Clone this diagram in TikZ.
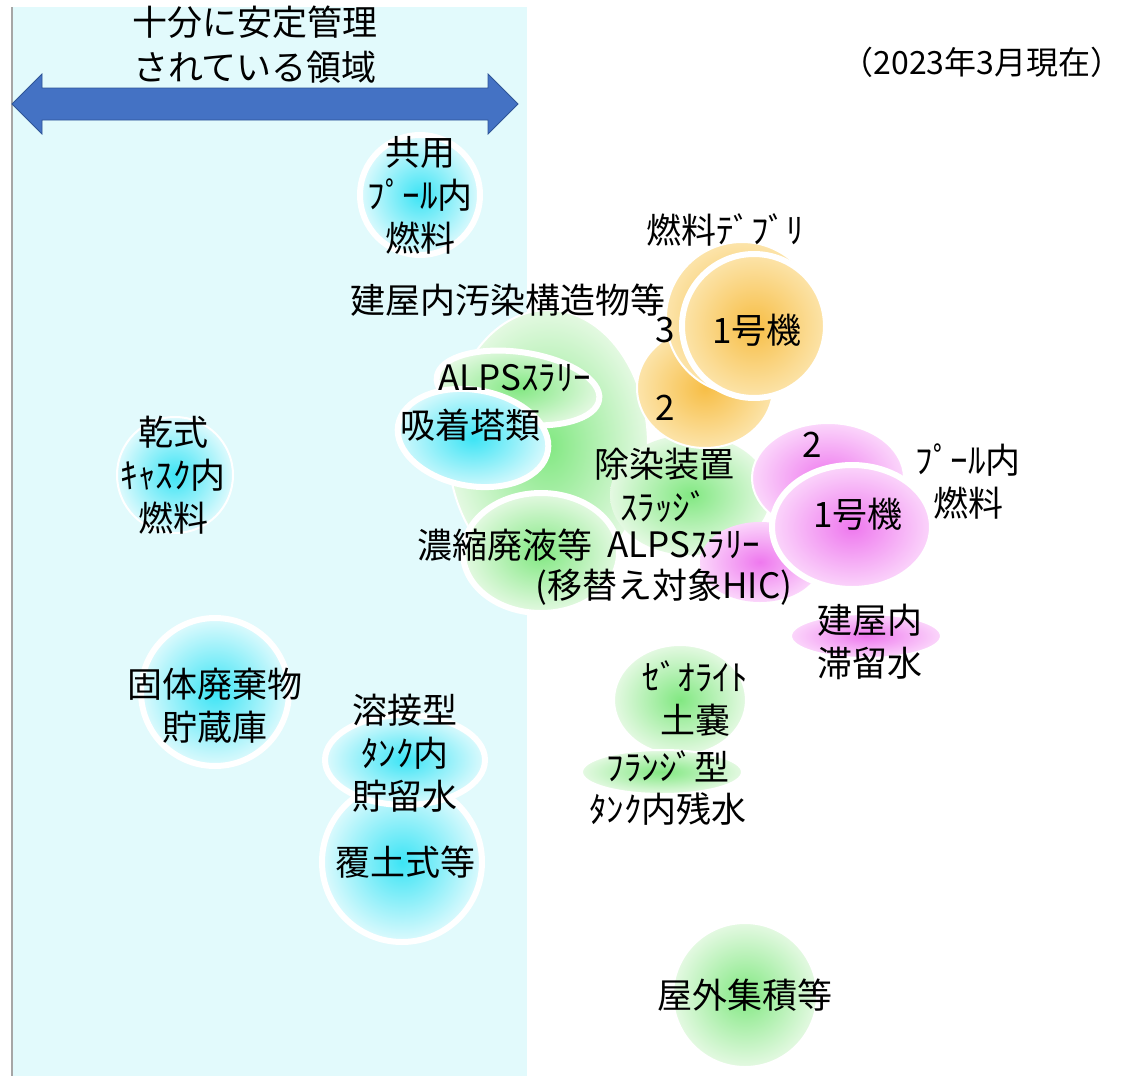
\documentclass[tikz,border=0pt]{standalone}
\usepackage{fontspec}
\setmainfont{Noto Sans CJK JP}
\definecolor{panel}{RGB}{226,250,252}
\definecolor{arrowblue}{RGB}{68,114,196}
\definecolor{arrowedge}{RGB}{47,85,151}
\definecolor{cyanC}{RGB}{60,228,245}
\definecolor{cyanO}{RGB}{222,250,253}
\definecolor{greenC}{RGB}{130,232,130}
\definecolor{greenO}{RGB}{228,249,226}
\definecolor{orangeC}{RGB}{247,190,70}
\definecolor{orangeO}{RGB}{252,228,170}
\definecolor{pinkC}{RGB}{238,120,238}
\definecolor{pinkO}{RGB}{251,214,251}
\begin{document}
\begin{tikzpicture}[x=1pt,y=-1pt,
  lbl/.style={font=\fontsize{35}{43}\selectfont, align=center, inner sep=0pt, text=black},
  small/.style={font=\fontsize{32}{36}\selectfont, inner sep=0pt},
  ring/.style={draw=white, line width=6pt},
  faint/.style={draw=white, line width=2pt},
  bcyan/.style={inner color=cyanC, outer color=cyanO},
  bgreen/.style={inner color=greenC, outer color=greenO},
  borange/.style={inner color=orangeC, outer color=orangeO},
  bpink/.style={inner color=pinkC, outer color=pinkO}]
\useasboundingbox (0,0) rectangle (1144,1076);
\fill[white] (0,0) rectangle (1144,1076);
\fill[panel] (12,7) rectangle (527,1076);
\draw[gray!70, line width=2.5pt] (12,7) -- (12,1076);
% double arrow
\filldraw[fill=arrowblue, draw=arrowedge, line width=0.8pt]
  (12,104) -- (42,74) -- (42,88) -- (488,88) -- (488,74) -- (518,104)
  -- (488,134) -- (488,120) -- (42,120) -- (42,134) -- cycle;
\node[lbl] (title1) at (255,22) {十分に安定管理};
\node[lbl] (title2) at (255,67) {されている領域};
\node[small] (date) at (982,62) {（2023年3月現在）};

% left cyan blobs
\shadedraw[bcyan, ring] (420,195) circle (60);
\shadedraw[bcyan, faint] (175,475) circle (58);
\shadedraw[bcyan, ring] (215,692) circle (74);
\shadedraw[bcyan, ring] (402,862) circle (80);
\shadedraw[bcyan, ring] (405,760) ellipse [x radius=80, y radius=45];

% green group
\shadedraw[bgreen, faint] (548,445) ellipse [x radius=100, y radius=135];
\shade[bgreen] (690,495) ellipse [x radius=80, y radius=60];
% orange debris
\shadedraw[borange, faint] (705,388) ellipse [x radius=68, y radius=60];
\shadedraw[borange, faint] (742,318) circle (76);
\shadedraw[borange, ring] (754,326) circle (72);
% pink pool
\shadedraw[bpink, faint] (828,478) ellipse [x radius=76, y radius=55];
\shade[bpink] (760,562) ellipse [x radius=60, y radius=40];
\shadedraw[bpink, ring] (852,527) ellipse [x radius=80, y radius=62];
% ALPS slurry + adsorption towers
\shadedraw[bgreen, ring, rotate around={-8:(518,388)}] (518,388) ellipse [x radius=82, y radius=36];
\shadedraw[bcyan, ring, rotate around={-10:(473,438)}] (473,438) ellipse [x radius=76, y radius=48];
\shadedraw[bgreen, ring] (541,553) ellipse [x radius=78, y radius=60];
% lower right
\shadedraw[bpink, faint] (866,636) ellipse [x radius=75, y radius=22];
\shadedraw[bgreen, faint] (680,700) ellipse [x radius=66, y radius=55];
\shadedraw[bgreen, faint] (662,772) ellipse [x radius=80, y radius=22];
\shadedraw[bgreen, faint] (745,995) circle (72);

% labels
\node[lbl] (kyoyo) at (420,195) {共用\\ﾌﾟｰﾙ内\\燃料};
\node[lbl] (kanshiki) at (173,475) {乾式\\ｷｬｽｸ内\\燃料};
\node[lbl] (kotai) at (215,706) {固体廃棄物\\貯蔵庫};
\node[lbl] (yosetsu) at (405,753) {溶接型\\ﾀﾝｸ内\\貯留水};
\node[lbl] (fukudo) at (405,862) {覆土式等};
\node[lbl] (debris) at (725,230) {燃料ﾃﾞﾌﾞﾘ};
\node[lbl] (tateya) at (508,300) {建屋内汚染構造物等};
\node[lbl] (d3) at (665,330) {3};
\node[lbl] (d1) at (757,330) {1号機};
\node[lbl] (d2) at (665,408) {2};
\node[lbl] (alps1) at (515,378) {ALPSｽﾗﾘｰ};
\node[lbl] (kyuchaku) at (470,425) {吸着塔類};
\node[lbl] (josen) at (664,485) {除染装置\\ｽﾗｯｼﾞ};
\node[lbl] (p2) at (812,445) {2};
\node[lbl] (pool) at (968,482) {ﾌﾟｰﾙ内\\燃料};
\node[lbl] (p1) at (858,514) {1号機};
\node[lbl] (noshuku) at (505,545) {濃縮廃液等};
\node[lbl] (alps2) at (684,545) {ALPSｽﾗﾘｰ};
\node[lbl] (hic) at (664,587) {(移替え対象HIC)};
\node[lbl] (taryu) at (870,642) {建屋内\\滞留水};
\node[lbl] (zeolite) at (695,699) {ｾﾞｵﾗｲﾄ\\土嚢};
\node[lbl] (flange) at (668,788) {ﾌﾗﾝｼﾞ型\\ﾀﾝｸ内残水};
\node[lbl] (okugai) at (745,995) {屋外集積等};
\end{tikzpicture}
\end{document}
